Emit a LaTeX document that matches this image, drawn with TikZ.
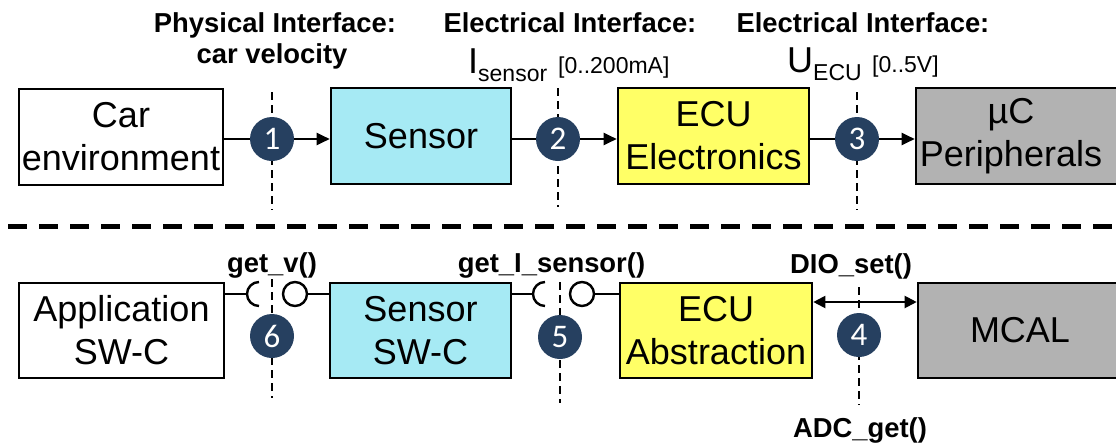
\documentclass[tikz,border=0pt]{standalone}
\usepackage{fontspec}
\setmainfont{Liberation Sans}
\newfontfamily\numfont{Carlito}
\usetikzlibrary{arrows.meta}
\definecolor{navy}{RGB}{38,64,96}
\definecolor{cyanbox}{RGB}{166,234,244}
\definecolor{yellowbox}{RGB}{255,255,102}
\definecolor{graybox}{RGB}{178,178,178}
\begin{document}
\begin{tikzpicture}[x=1pt,y=-1pt,
  box/.style={draw=black, line width=2.6pt, minimum height=96pt, inner sep=0pt, align=center, font=\fontsize{36}{43}\selectfont},
  boxtext/.style={inner sep=0pt, align=center, font=\fontsize{36}{43}\selectfont},
  num/.style={circle, fill=navy, minimum size=44pt, inner sep=0pt, text=white, font=\numfont\fontsize{33}{33}\selectfont},
  lbl/.style={inner sep=0pt, font=\bfseries\fontsize{27.4}{32}\selectfont, anchor=base},
  cutline/.style={line width=2.4pt, dash pattern=on 8pt off 5pt},
  conn/.style={line width=2pt},
  tip/.style={-{Triangle[length=13pt,width=12pt]}},
  dtip/.style={{Triangle[length=12pt,width=12pt]}-{Triangle[length=12pt,width=12pt]}},
  ball/.style={circle, draw=black, line width=2.4pt, fill=white, minimum size=24pt, inner sep=0pt},
]
\useasboundingbox (0,0) rectangle (1116,442);

% separator
\coordinate (sepL) at (8,226);
\coordinate (sepR) at (1116,226);
\draw[line width=5pt, dash pattern=on 19pt off 12pt] (sepL) -- (sepR);

% interface cut lines
\coordinate (t1a) at (272,92);  \coordinate (t1b) at (272,210);
\coordinate (t2a) at (558,88);  \coordinate (t2b) at (558,207);
\coordinate (t3a) at (857,92);  \coordinate (t3b) at (857,210);
\coordinate (b6a) at (272,279); \coordinate (b6b) at (272,398);
\coordinate (b5a) at (560,282); \coordinate (b5b) at (560,403);
\coordinate (b4a) at (859,287); \coordinate (b4b) at (859,405);
\draw[cutline] (t1a) -- (t1b);
\draw[cutline] (t2a) -- (t2b);
\draw[cutline] (t3a) -- (t3b);
\draw[cutline] (b6a) -- (b6b);
\draw[cutline] (b5a) -- (b5b);
\draw[cutline] (b4a) -- (b4b);

% top row boxes
\node[box, minimum width=204pt] (carenv) at (121,137) {Car\\environment};
\node[box, fill=cyanbox, minimum width=180pt] (sensor) at (421,136) {Sensor};
\node[box, fill=yellowbox, minimum width=191pt] (ecuel) at (713.5,136) {ECU\\Electronics};
\node[box, fill=graybox, minimum width=214pt] (uc) at (1023,136) {};
\node[boxtext] (uctext) at (1011,136) {µC\\Peripherals};

% bottom row boxes
\node[box, minimum width=205pt, minimum height=95pt] (app) at (121.5,330.5) {Application\\SW-C};
\node[box, fill=cyanbox, minimum width=181pt, minimum height=95pt] (sswc) at (420.5,330.5) {Sensor\\SW-C};
\node[box, fill=yellowbox, minimum width=192pt, minimum height=95pt] (ecuabs) at (716,330.5) {ECU\\Abstraction};
\node[box, fill=graybox, minimum width=212pt, minimum height=95pt] (mcal) at (1024,330.5) {};
\node[boxtext] (mcaltext) at (1020,330.5) {MCAL};

% top circles and connectors
\node[num] (c1) at (272,139) {1};
\node[num] (c2) at (558,139) {2};
\node[num] (c3) at (857,139) {3};
\draw[conn] (carenv.east |- c1) -- (c1);
\draw[conn, tip] (c1) -- (sensor.west |- c1);
\draw[conn] (sensor.east |- c2) -- (c2);
\draw[conn, tip] (c2) -- (ecuel.west |- c2);
\draw[conn] (ecuel.east |- c3) -- (c3);
\draw[conn, tip] (c3) -- (uc.west |- c3);

% bottom circles
\node[num] (c6) at (272,336) {6};
\node[num] (c5) at (560,337) {5};
\node[num] (c4) at (859,335) {4};

% interface 6: socket and ball
\coordinate (s6l) at (247,294);
\draw[conn] (app.east |- s6l) -- (s6l);
\draw[line width=2.4pt] (259,306) arc[start angle=90, end angle=270, radius=12];
\node[ball] (b6) at (295,294) {};
\draw[conn] (b6) -- (sswc.west |- b6);

% interface 5: socket and ball
\coordinate (s5l) at (533,294);
\draw[conn] (sswc.east |- s5l) -- (s5l);
\draw[line width=2.4pt] (545,306) arc[start angle=90, end angle=270, radius=12];
\node[ball] (b5) at (582,294) {};
\draw[conn] (b5) -- (ecuabs.west |- b5);

% interface 4: double arrow
\coordinate (da) at (860,302);
\draw[conn, dtip] (ecuabs.east |- da) -- (mcal.west |- da);

% labels top
\node[lbl] (phys) at (275,32) {Physical Interface:};
\node[lbl] (vel) at (272,63) {car velocity};
\node[lbl] (el1) at (570,32) {Electrical Interface:};
\node[lbl] (el2) at (863,32) {Electrical Interface:};
\node[inner sep=0pt, anchor=base west] (isens) at (468,73) {\fontsize{36}{36}\selectfont I\fontsize{23}{23}\selectfont\raisebox{-8pt}{sensor}};
\node[inner sep=0pt, anchor=base west, font=\fontsize{23}{23}\selectfont] (irange) at (558,73) {[0..200mA]};
\node[inner sep=0pt, anchor=base west] (uecu) at (787,72) {\fontsize{36}{36}\selectfont U\fontsize{23}{23}\selectfont\raisebox{-8pt}{ECU}};
\node[inner sep=0pt, anchor=base west, font=\fontsize{23}{23}\selectfont] (urange) at (872,72) {[0..5V]};

% labels bottom
\node[lbl] (getv) at (272,272) {get\_v()};
\node[lbl] (geti) at (551.5,272) {get\_I\_sensor()};
\node[lbl] (dio) at (851,273) {DIO\_set()};
\node[lbl] (adc) at (860,437) {ADC\_get()};
\end{tikzpicture}
\end{document}
